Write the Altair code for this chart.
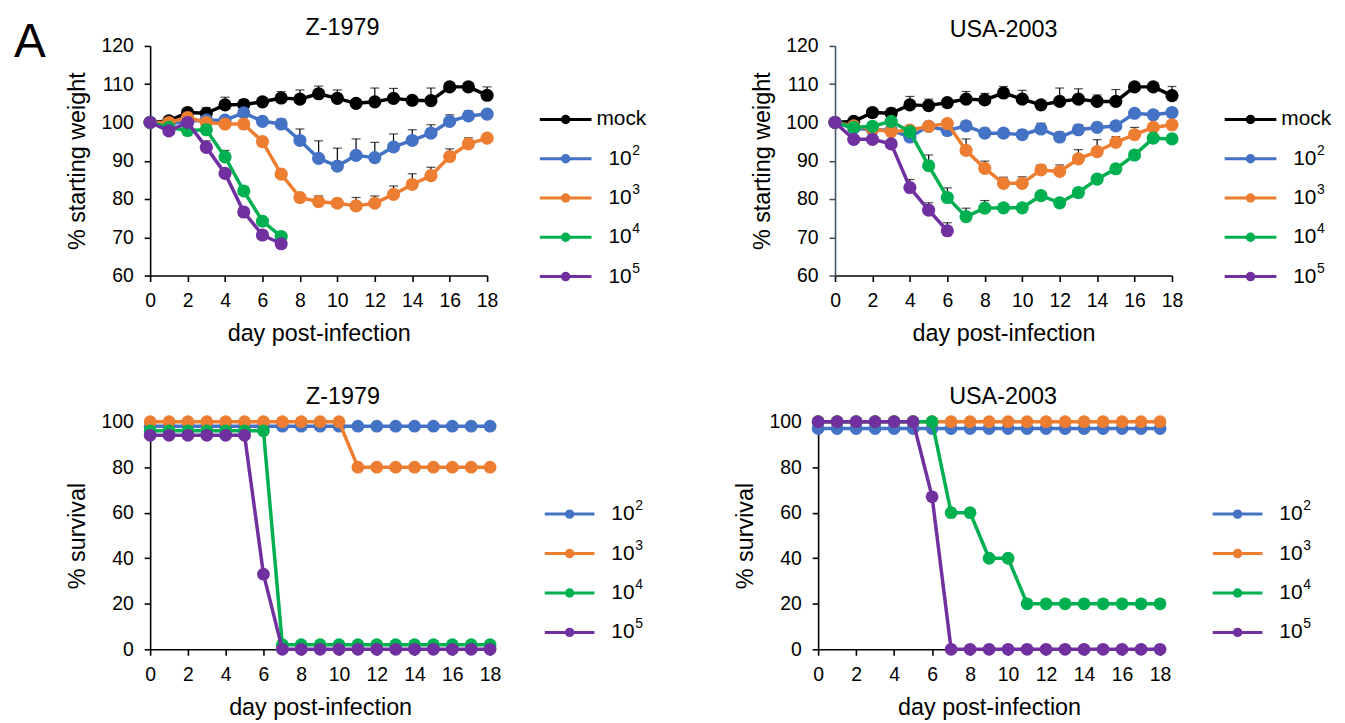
import altair as alt
import pandas as pd

FONT = "Liberation Sans"
days = list(range(19))

# ---- series keys / labels / colours ----
keys_w = ["mock", "1e2", "1e3", "1e4", "1e5"]
base_w = ["mock", "10", "10", "10", "10"]
exp_w = ["", "2", "3", "4", "5"]
colors_w = ["#000000", "#4472C4", "#ED7D31", "#00B050", "#7030A0"]
keys_s = ["1e2", "1e3", "1e4", "1e5"]
base_s = ["10", "10", "10", "10"]
exp_s = ["2", "3", "4", "5"]
colors_s = ["#4472C4", "#ED7D31", "#00B050", "#7030A0"]

# ---- Z-1979 % starting weight (mean) ----
z_mock = [100, 100.4, 102.6, 102.4, 104.6, 104.7, 105.4, 106.4, 106.1, 107.5, 106.3, 105.0, 105.4, 106.3, 105.8, 105.7, 109.3, 109.3, 107.1]
z_1e2 = [100, 99.6, 100.4, 100.6, 100.6, 102.5, 100.3, 99.6, 95.3, 90.6, 88.6, 91.4, 90.8, 93.6, 95.3, 97.2, 100.3, 101.7, 102.2]
z_1e3 = [100, 100.0, 101.3, 100.0, 99.6, 99.6, 95.0, 86.5, 80.4, 79.3, 78.9, 78.2, 78.9, 81.2, 83.8, 86.1, 91.1, 94.4, 95.9]
z_1e4 = [100, 98.7, 97.9, 98.1, 91.0, 82.1, 74.2, 70.2]
z_1e5 = [100, 97.8, 100.0, 93.5, 86.7, 76.6, 70.6, 68.3]
# upper error (SEM)
z_mock_err = [0, 0.5, 0.9, 1.5, 2.0, 1.3, 1.0, 1.7, 2.4, 2.0, 2.2, 0.6, 3.6, 2.6, 0.8, 3.3, 1.0, 1.0, 2.2]
z_1e2_err = [0, 0.4, 0.4, 0.5, 0.5, 0.5, 0.5, 1.3, 3.0, 4.6, 4.7, 4.3, 4.0, 3.4, 2.8, 2.2, 1.7, 1.3, 0.8]
z_1e3_err = [0, 0.3, 0.4, 0.4, 0.4, 0.5, 1.0, 1.0, 0.8, 1.5, 1.2, 2.2, 1.9, 2.2, 2.8, 2.2, 2.0, 1.6, 0.8]
z_1e4_err = [0, 0.4, 0.4, 0.5, 1.7, 1.0, 1.0, 0.5]
z_1e5_err = [0, 0.4, 0.4, 1.7, 1.0, 1.1, 0.8, 0.5]

# ---- USA-2003 % starting weight ----
u_mock = [100, 100.3, 102.6, 102.4, 104.6, 104.4, 105.2, 106.1, 105.9, 107.7, 106.1, 104.6, 105.5, 106.1, 105.5, 105.5, 109.3, 109.3, 107.0]
u_1e2 = [100, 98.5, 98.1, 98.0, 96.2, 99.0, 97.9, 99.1, 97.2, 97.2, 96.8, 98.3, 96.2, 98.1, 98.7, 99.1, 102.4, 102.0, 102.6]
u_1e3 = [100, 99.1, 98.3, 97.6, 98.0, 99.0, 99.7, 92.7, 88.0, 84.1, 84.1, 87.6, 87.2, 90.5, 92.4, 94.8, 96.8, 98.7, 99.4]
u_1e4 = [100, 98.7, 99.0, 100.3, 97.6, 88.7, 80.4, 75.4, 77.6, 77.7, 77.7, 80.9, 79.0, 81.7, 85.2, 87.9, 91.5, 95.9, 95.7]
u_1e5 = [100, 95.6, 95.6, 94.4, 83.0, 77.1, 71.7]
u_mock_err = [0, 0.5, 1.0, 1.3, 2.2, 1.7, 0.8, 2.0, 1.7, 1.7, 2.3, 0.5, 3.5, 2.7, 1.7, 3.1, 0.8, 0.8, 2.4]
u_1e2_err = [0, 0.5, 0.5, 0.5, 0.8, 1.0, 1.2, 1.2, 1.3, 1.0, 1.2, 1.5, 1.3, 1.3, 1.2, 1.0, 0.8, 0.8, 0.6]
u_1e3_err = [0, 0.5, 0.5, 0.5, 0.5, 0.6, 0.6, 3.0, 1.9, 1.6, 1.7, 1.3, 1.7, 2.4, 3.1, 1.5, 1.9, 1.0, 0.8]
u_1e4_err = [0, 0.5, 0.5, 0.5, 1.0, 2.8, 2.5, 2.2, 2.0, 1.0, 1.0, 0.8, 0.8, 0.8, 0.8, 0.8, 0.8, 0.8, 0.8]
u_1e5_err = [0, 0.5, 0.5, 0.5, 2.1, 1.9, 2.1]

# ---- % survival ----
zs_1e2 = [98, 98, 98, 98, 98, 98, 98, 98, 98, 98, 98, 98, 98, 98, 98, 98, 98, 98, 98]
zs_1e3 = [100, 100, 100, 100, 100, 100, 100, 100, 100, 100, 100, 80, 80, 80, 80, 80, 80, 80, 80]
zs_1e4 = [96, 96, 96, 96, 96, 96, 96, 2, 2, 2, 2, 2, 2, 2, 2, 2, 2, 2, 2]
zs_1e5 = [94, 94, 94, 94, 94, 94, 33, 0, 0, 0, 0, 0, 0, 0, 0, 0, 0, 0, 0]
us_1e2 = [97, 97, 97, 97, 97, 97, 97, 97, 97, 97, 97, 97, 97, 97, 97, 97, 97, 97, 97]
us_1e3 = [100, 100, 100, 100, 100, 100, 100, 100, 100, 100, 100, 100, 100, 100, 100, 100, 100, 100, 100]
us_1e4 = [100, 100, 100, 100, 100, 100, 100, 60, 60, 40, 40, 20, 20, 20, 20, 20, 20, 20, 20]
us_1e5 = [100, 100, 100, 100, 100, 100, 67, 0, 0, 0, 0, 0, 0, 0, 0, 0, 0, 0, 0]


def panel(title, keys, bases, exps, cols, vals_list, errs_list, ydom, ystep, ytitle,
          w, h, ycolor, leg_line, leg_rows, title_offset, title_dx, lw, msize, letter=False):
    X = alt.X("day:Q", scale=alt.Scale(domain=[0, 18], nice=False, zero=False),
              axis=alt.Axis(values=list(range(0, 19, 2)), title="day post-infection"))
    ys = alt.Scale(domain=ydom, nice=False, zero=False)
    yax = alt.Axis(values=list(range(ydom[0], ydom[1] + 1, ystep)), title=ytitle,
                   domainColor=ycolor, tickColor=ycolor)
    layers = []
    for col, vals, errs in zip(cols, vals_list, errs_list):
        df = pd.DataFrame({"day": days[:len(vals)], "value": vals})
        if errs is not None:
            df["top"] = [v + e for v, e in zip(vals, errs)]
            e = df[df["top"] > df["value"]]
            layers.append(alt.Chart(e).mark_rule(color="black", strokeWidth=1.2).encode(
                x=X, y=alt.Y("value:Q", scale=ys, axis=yax), y2="top:Q"))
            layers.append(alt.Chart(e).mark_tick(color="black", orient="horizontal", size=9,
                                                 thickness=1.2).encode(
                x=X, y=alt.Y("top:Q", scale=ys, axis=yax)))
        layers.append(alt.Chart(df).mark_line(color=col, strokeWidth=lw, strokeJoin="round",
                                              strokeCap="round").encode(
            x=X, y=alt.Y("value:Q", scale=ys, axis=yax)))
        layers.append(alt.Chart(df).mark_circle(color=col, size=msize, opacity=1).encode(
            x=X, y=alt.Y("value:Q", scale=ys, axis=yax)))
    if letter:
        layers.append(alt.Chart(pd.DataFrame({"t": ["A"]})).mark_text(
            fontSize=48, font=FONT, align="left", baseline="alphabetic", color="black").encode(
            text="t:N", x=alt.value(-137), y=alt.value(11)))
    data_layer = alt.layer(*layers)

    leg = pd.DataFrame({"key": keys, "base": bases, "exp": exps,
                        "x0": 0.0, "x1": 1.0, "xm": 0.5})
    LX = alt.Scale(domain=[0, 1], range=leg_line)
    LY = alt.Y("key:N", scale=alt.Scale(type="point", domain=keys, range=leg_rows, padding=0),
               axis=None)
    LC = alt.Color("key:N", scale=alt.Scale(domain=keys, range=cols), legend=None)
    lrule = alt.Chart(leg).mark_rule(strokeWidth=3).encode(
        x=alt.X("x0:Q", scale=LX, axis=None), x2="x1:Q", y=LY, color=LC)
    ldot = alt.Chart(leg).mark_circle(size=90, opacity=1).encode(
        x=alt.X("xm:Q", scale=LX, axis=None), y=LY, color=LC)
    lt_mock = alt.Chart(leg).transform_filter("datum.exp == ''").mark_text(
        align="left", baseline="middle", fontSize=21, font=FONT, dx=5, color="black").encode(
        x=alt.X("x1:Q", scale=LX, axis=None), y=LY, text="base:N")
    lt_ten = alt.Chart(leg).transform_filter("datum.exp != ''").mark_text(
        align="left", baseline="middle", fontSize=21, font=FONT, dx=17, color="black").encode(
        x=alt.X("x1:Q", scale=LX, axis=None), y=LY, text="base:N")
    lt_exp = alt.Chart(leg).transform_filter("datum.exp != ''").mark_text(
        align="left", baseline="middle", fontSize=14, font=FONT, dx=41, dy=-8,
        color="black").encode(
        x=alt.X("x1:Q", scale=LX, axis=None), y=LY, text="exp:N")
    legend_layer = alt.layer(lrule, ldot, lt_mock, lt_ten, lt_exp)

    return alt.layer(data_layer, legend_layer).resolve_scale(
        x="independent", y="independent", color="independent").properties(
        width=w, height=h,
        title=alt.TitleParams(title, fontSize=23.5, font=FONT, fontWeight="normal",
                              frame="group", offset=title_offset, dx=title_dx,
                              color="black"))


A = panel("Z-1979", keys_w, base_w, exp_w, colors_w,
          [z_mock, z_1e2, z_1e3, z_1e4, z_1e5],
          [z_mock_err, z_1e2_err, z_1e3_err, z_1e4_err, z_1e5_err],
          [60, 120], 10, "% starting weight", 339, 231, "black",
          [392, 444], [74, 232], -21, 24, 3.5, 175, letter=True)
B = panel("USA-2003", keys_w, base_w, exp_w, colors_w,
          [u_mock, u_1e2, u_1e3, u_1e4, u_1e5],
          [u_mock_err, u_1e2_err, u_1e3_err, u_1e4_err, u_1e5_err],
          [60, 120], 10, "% starting weight", 339, 231, "#44546A",
          [392, 444], [74, 232], -6, 0, 3.5, 175)
C = panel("Z-1979", keys_s, base_s, exp_s, colors_s,
          [zs_1e2, zs_1e3, zs_1e4, zs_1e5], [None, None, None, None],
          [0, 100], 20, "% survival", 342, 229, "black",
          [397, 447], [93, 212], 3, 23, 3.5, 165)
D = panel("USA-2003", keys_s, base_s, exp_s, colors_s,
          [us_1e2, us_1e3, us_1e4, us_1e5], [None, None, None, None],
          [0, 100], 20, "% survival", 344, 229, "black",
          [397, 447], [93, 212], 3, 14, 3.5, 165)

top = alt.hconcat(A, B, spacing=350, bounds="flush")
bottom = alt.hconcat(C, D, spacing=330, bounds="flush")

chart = alt.vconcat(top, bottom, spacing=378, bounds="flush").properties(
    padding={"left": 6, "top": 6, "right": 5, "bottom": 5}
).configure_axis(
    labelFont=FONT, titleFont=FONT, labelFontSize=19.5, titleFontSize=23.5,
    titleFontWeight="normal", labelColor="black", titleColor="black",
    domainColor="black", tickColor="black", domainWidth=1.6, tickWidth=1.6,
    tickSize=6, grid=False, labelFlush=False, labelOverlap=False
).configure_axisX(labelPadding=10, titlePadding=12).configure_axisY(
    labelPadding=11, titlePadding=11
).configure_view(stroke=None)

chart.save("out.html", embed_options={"renderer": "svg", "actions": False})
